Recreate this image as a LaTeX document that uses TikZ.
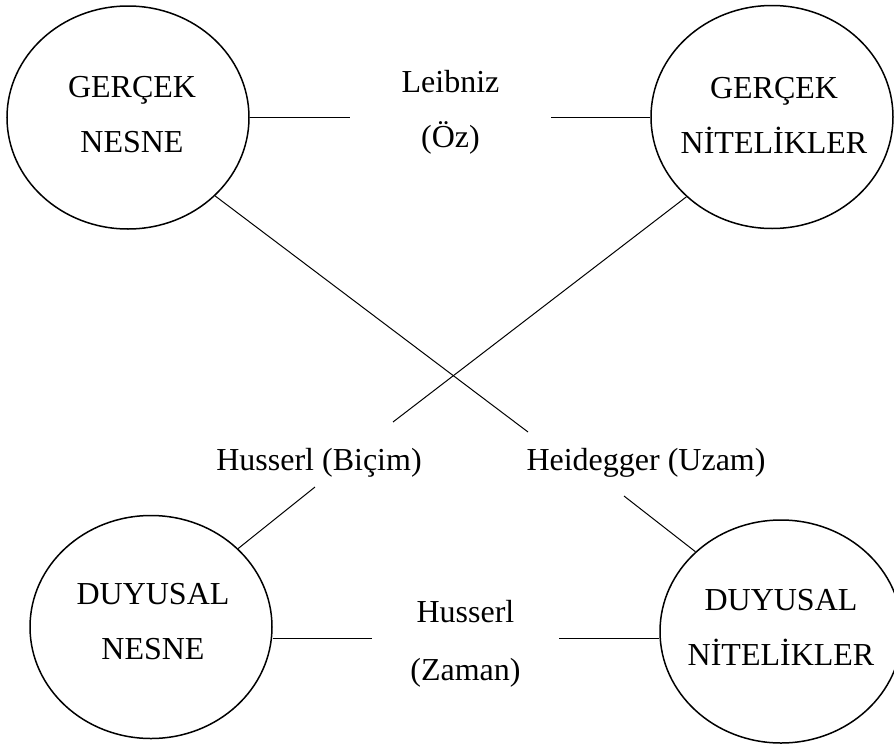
\documentclass[tikz,border=0pt]{standalone}
\usepackage{fontspec}
\setmainfont{Liberation Serif}
\usetikzlibrary{shapes.geometric}
\begin{document}
\begin{tikzpicture}[x=1pt,y=-1pt,
  ell/.style={draw, ellipse, line width=1.5pt, minimum width=242pt, minimum height=223pt, inner sep=0pt},
  txt/.style={font=\fontsize{32}{55}\selectfont, align=center, inner sep=0pt},
  lbl/.style={font=\fontsize{32}{55}\selectfont, align=center, inner sep=0pt},
  conn/.style={line width=1pt}]
\useasboundingbox (0,0) rectangle (894,744);
% ellipses
\node[ell] (gn) at (128,117.5) {};
\node[ell] (gr) at (772,117) {};
\node[ell] (dn) at (151,627) {};
\node[ell] (dr) at (781,631.5) {};
% ellipse texts
\node[txt, xshift=4pt, yshift=2.5pt] (gnt) at (gn) {GERÇEK\\NESNE};
\node[txt, xshift=2pt, yshift=2pt] (grt) at (gr) {GERÇEK\\NİTELİKLER};
\node[txt, xshift=2pt, yshift=5.5pt] (dnt) at (dn) {DUYUSAL\\NESNE};
\node[txt, xshift=0pt, yshift=4pt] (drt) at (dr) {DUYUSAL\\NİTELİKLER};
% labels
\node[lbl, minimum width=201pt] (leib) at (450.5,112) {Leibniz\\(Öz)};
\node[lbl, minimum width=187pt, font=\fontsize{32}{58}\selectfont] (hz) at (465.5,643.5) {Husserl\\(Zaman)};
\node[lbl, anchor=base] (hb) at (319,470) {Husserl (Biçim)};
\node[lbl, anchor=base] (hd) at (646,470) {Heidegger (Uzam)};
% free ends of the diagonals
\coordinate (c1) at (528,432);
\coordinate (c2) at (393,422);
\coordinate (c3) at (315,487);
\coordinate (c4) at (624,496);
% horizontal connectors
\draw[conn] (gn.east) -- (gn.east -| leib.west);
\draw[conn] (leib.east |- gr.west) -- (gr.west);
\draw[conn] ([yshift=-11pt]dn.east) -- ([yshift=-11pt]dn.east -| hz.west);
\draw[conn] ([yshift=-6.5pt]dr.west -| hz.east) -- ([yshift=-6.5pt]dr.west);
% diagonals
\draw[conn] (gn.-42.4) -- (c1);
\draw[conn] (gr.-137.4) -- (c2);
\draw[conn] (c3) -- (dn.42.6);
\draw[conn] (c4) -- (dr.137.2);
\end{tikzpicture}
\end{document}
